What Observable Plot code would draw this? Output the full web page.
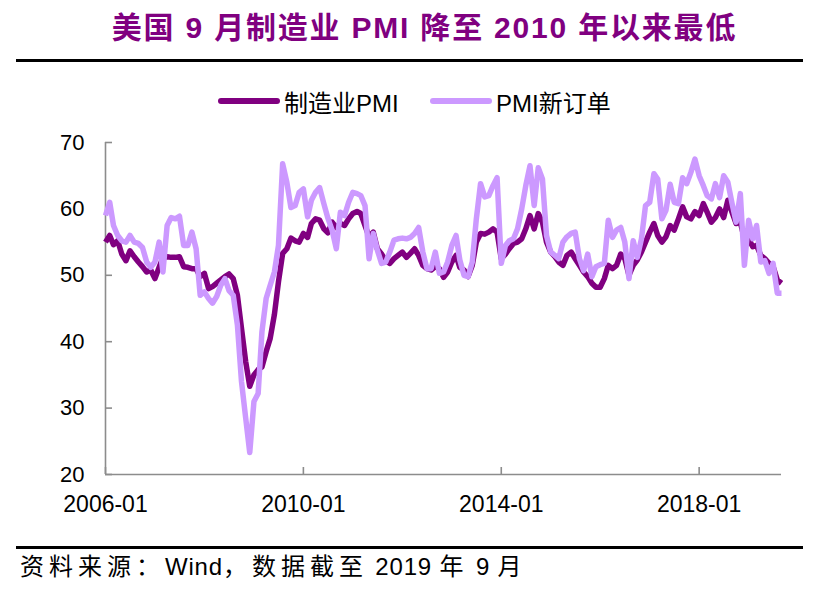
<!DOCTYPE html>
<html>
<head>
<meta charset="utf-8">
<script src="https://cdn.jsdelivr.net/npm/d3@7"></script>
<script src="https://cdn.jsdelivr.net/npm/@observablehq/plot@0.6"></script>
<style>
  html, body { margin: 0; padding: 0; background: #fff; }
  #wrap { position: relative; width: 819px; height: 592px; overflow: hidden; font-family: "Liberation Sans", Arial, "Noto Sans CJK SC", sans-serif; }
  #title { position: absolute; left: 15px; top: 8px; width: 819px; text-align: center; font-size: 30px; line-height: 40px; font-weight: bold; color: #800080; letter-spacing: 1.8px; font-family: "Liberation Sans", Arial, "Noto Sans CJK SC", sans-serif; white-space: nowrap; }
  .rule { position: absolute; left: 16px; width: 787px; height: 3px; background: #000; }
  #legend { position: absolute; top: 86px; left: 0; width: 819px; height: 30px; font-size: 24px; color: #000; }
  .item { position: absolute; top: 0; display: flex; align-items: center; height: 30px; white-space: nowrap; }
  .sw { display: inline-block; width: 62px; height: 6px; margin-right: 4px; border-radius: 3px; }
  #chart { position: absolute; left: 0; top: 125px; }
  #caption { position: absolute; left: 20px; top: 552px; font-size: 24px; line-height: 30px; color: #000; white-space: pre; font-family: "Liberation Sans", Arial, "Noto Sans CJK SC", sans-serif; }
  #caption .cjk { letter-spacing: 5px; }
  #caption .lat { letter-spacing: 0.8px; }
</style>
</head>
<body>
<div id="wrap">
  <div id="title"></div>
  <div class="rule" style="top:59px"></div>
  <div id="legend"></div>
  <div id="chart"></div>
  <div class="rule" style="top:546px"></div>
  <div id="caption"></div>
</div>
<script>
const titleText = "美国 9 月制造业 PMI 降至 2010 年以来最低";
const captionText = "资料来源：Wind，数据截至 2019 年 9 月";
const seriesNames = ["制造业PMI", "PMI新订单"];
const seriesColors = ["#800080", "#CC99FF"];
const startMonth = "2006-01";
const endMonth = "2019-09";
const xTickLabels = ["2006-01", "2010-01", "2014-01", "2018-01"];
const yTicks = [20, 30, 40, 50, 60, 70];

// 制造业PMI, monthly 2006-01 .. 2019-09
const pmi = [
  55.0, 56.0, 54.6, 55.2, 53.2, 52.2, 53.7, 52.8, 52.0, 51.3, 50.5, 50.8,
  49.5, 51.2, 52.7, 52.8, 52.7, 52.7, 52.8, 51.3, 51.2, 51.0, 51.0, 49.8,
  50.3, 48.0, 48.3, 48.8, 49.3, 49.8, 50.2, 49.5, 47.0, 42.0, 37.0, 33.3,
  35.0, 35.8, 36.2, 38.5, 40.5, 44.1, 49.0, 53.3, 54.0, 55.6, 55.2, 55.0,
  56.3, 55.7, 57.8, 58.5, 58.3, 57.0, 56.4, 58.0, 57.2, 57.8, 57.5, 58.5,
  59.3, 59.6, 59.3, 57.5, 55.8, 56.5, 54.0, 53.2, 52.2, 51.8, 52.5, 53.0,
  53.5, 52.7, 53.3, 54.0, 53.0, 51.5, 51.0, 50.8, 51.3, 51.0, 49.7, 50.5,
  52.0, 53.0, 51.2, 50.8, 49.8, 51.5, 55.0, 56.3, 56.2, 56.5, 57.0, 56.5,
  52.5, 53.2, 54.0, 54.8, 55.0, 55.5, 57.0, 59.0, 57.0, 59.3, 58.0, 55.0,
  53.5, 52.8, 52.0, 51.5, 53.0, 53.5, 52.5, 51.5, 50.5, 49.8, 48.8, 48.2,
  48.2, 49.5, 51.5, 51.0, 51.5, 53.2, 52.5, 50.0, 51.5, 52.3, 53.5, 55.0,
  56.5, 57.8, 56.0, 55.0, 55.8, 57.5, 56.8, 58.5, 60.3, 58.8, 58.5, 59.6,
  59.0, 60.8, 59.5, 58.0, 58.7, 60.0, 58.7, 61.3, 59.5, 57.8, 58.0, 55.5,
  55.5, 54.3, 54.5, 53.0, 52.5, 51.8, 51.3, 49.3, 48.8
];

// PMI新订单, monthly 2006-01 .. 2019-09
const newOrders = [
  59.0, 61.0, 57.5, 56.0, 55.2, 55.0, 56.0, 55.0, 54.8, 54.2, 52.0, 51.2,
  52.0, 55.0, 50.5, 57.5, 58.7, 58.5, 58.9, 54.5, 54.5, 56.5, 54.0, 47.0,
  47.5, 46.5, 45.8, 46.8, 48.5, 49.5, 47.7, 47.0, 42.5, 34.0, 28.5, 23.3,
  31.0, 32.2, 41.5, 46.5, 48.5, 50.5, 54.5, 66.8, 64.0, 60.2, 60.5, 62.5,
  63.0, 58.8, 61.3, 62.5, 63.2, 60.8, 58.6, 56.8, 54.0, 59.5, 59.0, 61.0,
  62.5, 62.3, 62.0, 60.5, 52.5, 56.3, 53.8, 51.8, 52.0, 53.5, 55.3, 55.5,
  55.6, 55.5, 55.7, 56.3, 57.2, 53.5, 51.0, 51.0, 53.5, 50.3, 50.5, 52.0,
  54.5, 56.0, 52.3, 50.0, 49.8, 52.0, 58.5, 63.8, 61.8, 62.0, 63.5, 64.7,
  51.8, 54.5, 55.2, 55.5, 57.0, 60.0, 63.5, 66.5, 60.5, 66.2, 64.5, 56.0,
  53.5, 53.0, 52.5, 55.0, 55.8, 56.3, 56.5, 52.5, 50.7, 53.2, 49.8, 51.3,
  51.6, 51.8, 58.3, 55.7, 56.8, 57.2, 55.0, 49.5, 55.2, 52.7, 55.5, 60.5,
  61.0, 65.3, 64.5, 58.5, 59.8, 63.7, 61.0, 60.8, 64.7, 63.8, 65.5, 67.5,
  65.0, 63.5, 62.0, 61.5, 63.8, 61.7, 65.0, 64.0, 60.8, 58.0, 62.3, 51.5,
  58.3, 55.5, 57.5, 52.0, 52.2, 50.3, 51.8, 47.3, 47.3
];

const parseMonth = d3.utcParse("%Y-%m");
const dates = d3.utcMonth.range(parseMonth(startMonth), d3.utcMonth.offset(parseMonth(endMonth), 1));
const data = dates.map((d, i) => ({date: d, pmi: pmi[i], no: newOrders[i]}));
const xTicks = xTickLabels.map(parseMonth);

document.getElementById("title").textContent = titleText;

// caption: CJK runs letter-spaced, Latin runs nearly as is
const cap = document.getElementById("caption");
captionText.match(/[\x00-\x7F]+|[^\x00-\x7F]+/g).forEach(run => {
  const s = document.createElement("span");
  s.className = /[^\x00-\x7F]/.test(run) ? "cjk" : "lat";
  s.textContent = run;
  cap.appendChild(s);
});

const legend = document.getElementById("legend");
const legendX = [218, 430];
seriesNames.forEach((name, i) => {
  const it = document.createElement("div");
  it.className = "item";
  it.style.left = legendX[i] + "px";
  const sw = document.createElement("span");
  sw.className = "sw";
  sw.style.background = seriesColors[i];
  const tx = document.createElement("span");
  tx.textContent = name;
  it.appendChild(sw);
  it.appendChild(tx);
  legend.appendChild(it);
});

const axisColor = "#8c8c8c";
const chart = Plot.plot({
  width: 819,
  height: 400,
  marginTop: 17,
  marginBottom: 51,
  marginLeft: 105,
  marginRight: 38,
  style: {fontFamily: "'Liberation Sans', Arial, sans-serif", fontSize: "22px", color: "#000", background: "transparent", overflow: "visible"},
  x: {type: "utc", domain: [dates[0], dates[dates.length - 1]]},
  y: {domain: [20, 70]},
  marks: [
    Plot.ruleY([20], {stroke: axisColor, strokeWidth: 1.6}),
    Plot.ruleX([dates[0]], {stroke: axisColor, strokeWidth: 1.6}),
    Plot.axisY(yTicks, {anchor: "left", tickSize: -7, tickPadding: 28, stroke: axisColor, strokeWidth: 1.6, fill: "#000", label: null, fontSize: 22}),
    Plot.axisX(xTicks, {anchor: "bottom", tickSize: -7, tickPadding: 28, stroke: axisColor, strokeWidth: 1.6, fill: "#000", label: null, tickFormat: d3.utcFormat("%Y-%m"), fontSize: 23}),
    Plot.line(data, {x: "date", y: "pmi", stroke: seriesColors[0], strokeWidth: 5.5, strokeLinejoin: "round", strokeLinecap: "butt"}),
    Plot.line(data, {x: "date", y: "no", stroke: seriesColors[1], strokeWidth: 5.5, strokeLinejoin: "round", strokeLinecap: "butt"})
  ]
});
document.getElementById("chart").appendChild(chart);
</script>
</body>
</html>
